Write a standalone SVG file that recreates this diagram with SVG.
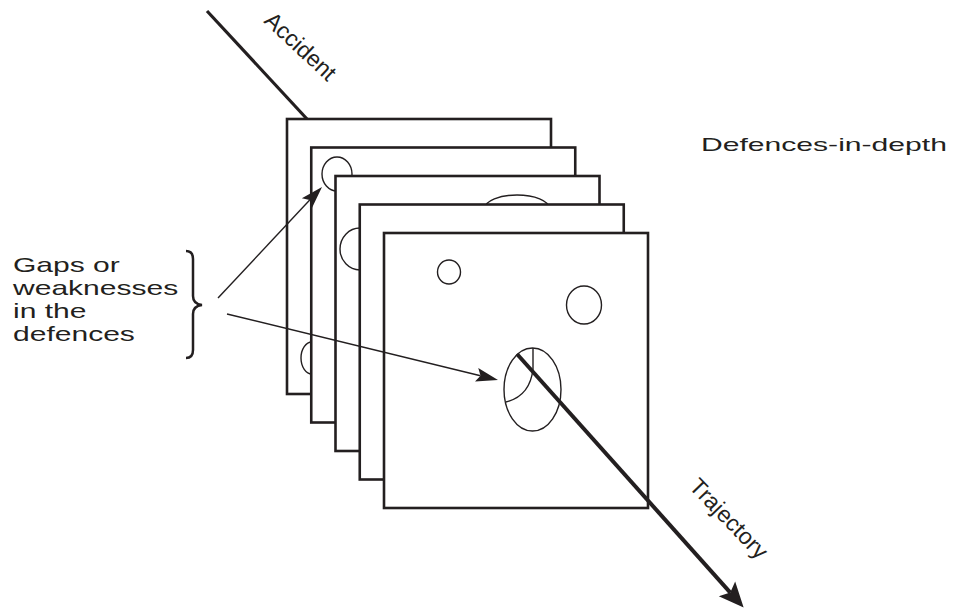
<svg xmlns="http://www.w3.org/2000/svg" width="954" height="613" viewBox="0 0 954 613">
<style>
.sheet{fill:#fff;stroke:#231f20;stroke-width:2.6}
.hole{fill:none;stroke:#231f20;stroke-width:1.4}
.thin{fill:none;stroke:#231f20;stroke-width:1.4}
.thick{fill:none;stroke:#231f20;stroke-width:4}
.lbl{font-family:"Liberation Sans",Arial,sans-serif;fill:#231f20}
</style>
<defs>
<marker id="headThick" markerUnits="userSpaceOnUse" markerWidth="26" markerHeight="24" refX="5" refY="11" orient="auto" viewBox="0 0 26 22">
<path d="M0,0 L25,11 L0,22 L5,11 z" fill="#231f20"/>
</marker>
<marker id="headThin" markerUnits="userSpaceOnUse" markerWidth="24" markerHeight="16" refX="4" refY="7" orient="auto" viewBox="0 0 24 14">
<path d="M0,0 L22,7 L0,14 L4,7 z" fill="#231f20"/>
</marker>
</defs>
<rect width="954" height="613" fill="#fff"/>
<g id="accident-line">
<line class="thick" x1="207" y1="11" x2="307" y2="119" style="stroke-width:3.2"/>
</g>
<g id="defence-1">
<rect class="sheet" x="287" y="119" width="264" height="275"/>
<ellipse class="hole" cx="312" cy="358" rx="11" ry="16"/>
</g>
<g id="defence-2">
<rect class="sheet" x="311.25" y="147.5" width="264" height="275"/>
<ellipse class="hole" cx="337" cy="174" rx="15" ry="17"/>
</g>
<g id="defence-3">
<rect class="sheet" x="335.5" y="176" width="264" height="275"/>
<ellipse class="hole" cx="517" cy="208" rx="32" ry="13"/>
<ellipse class="hole" cx="360" cy="249" rx="20" ry="21"/>
</g>
<g id="defence-4">
<rect class="sheet" x="359.75" y="204.5" width="264" height="275"/>
</g>
<g id="defence-5">
<rect class="sheet" x="384" y="233" width="264" height="275"/>
<ellipse class="hole" cx="449" cy="272" rx="11.5" ry="12"/>
<ellipse class="hole" cx="584" cy="305" rx="17.5" ry="19"/>
<ellipse class="hole" cx="532.5" cy="389.5" rx="28.5" ry="41.5"/>
<path class="hole" d="M533,348 L533,369 Q530,396 506,402"/>
</g>
<g id="connectors">
<line class="thick" x1="517" y1="354" x2="730.3" y2="592.6" marker-end="url(#headThick)"/>
<line class="thin" x1="218" y1="298" x2="309.7" y2="200.1" marker-end="url(#headThin)"/>
<line class="thin" x1="227" y1="314" x2="480.5" y2="375.7" marker-end="url(#headThin)"/>
</g>
<g id="brace">
<path d="M186,251 Q193,251 193,259 L193,296 Q193,304 202,305 Q193,306 193,314 L193,350 Q193,358 186,358" fill="none" stroke="#231f20" stroke-width="2.5"/>
</g>
<g id="labels">
<text class="lbl" font-size="19" transform="translate(701,151) scale(1.585,1)">Defences-in-depth</text>
<g transform="translate(13,0) scale(1.43,1)">
<text class="lbl" font-size="21" x="0" y="272">Gaps or</text>
<text class="lbl" font-size="21" x="0" y="295">weaknesses</text>
<text class="lbl" font-size="21" x="0" y="318">in the</text>
<text class="lbl" font-size="21" x="0" y="341">defences</text>
</g>
<text class="lbl" font-size="23" transform="translate(263,22) rotate(43)">Accident</text>
<text class="lbl" font-size="23" transform="translate(688,487.5) rotate(46)">Trajectory</text>
</g>
</svg>
